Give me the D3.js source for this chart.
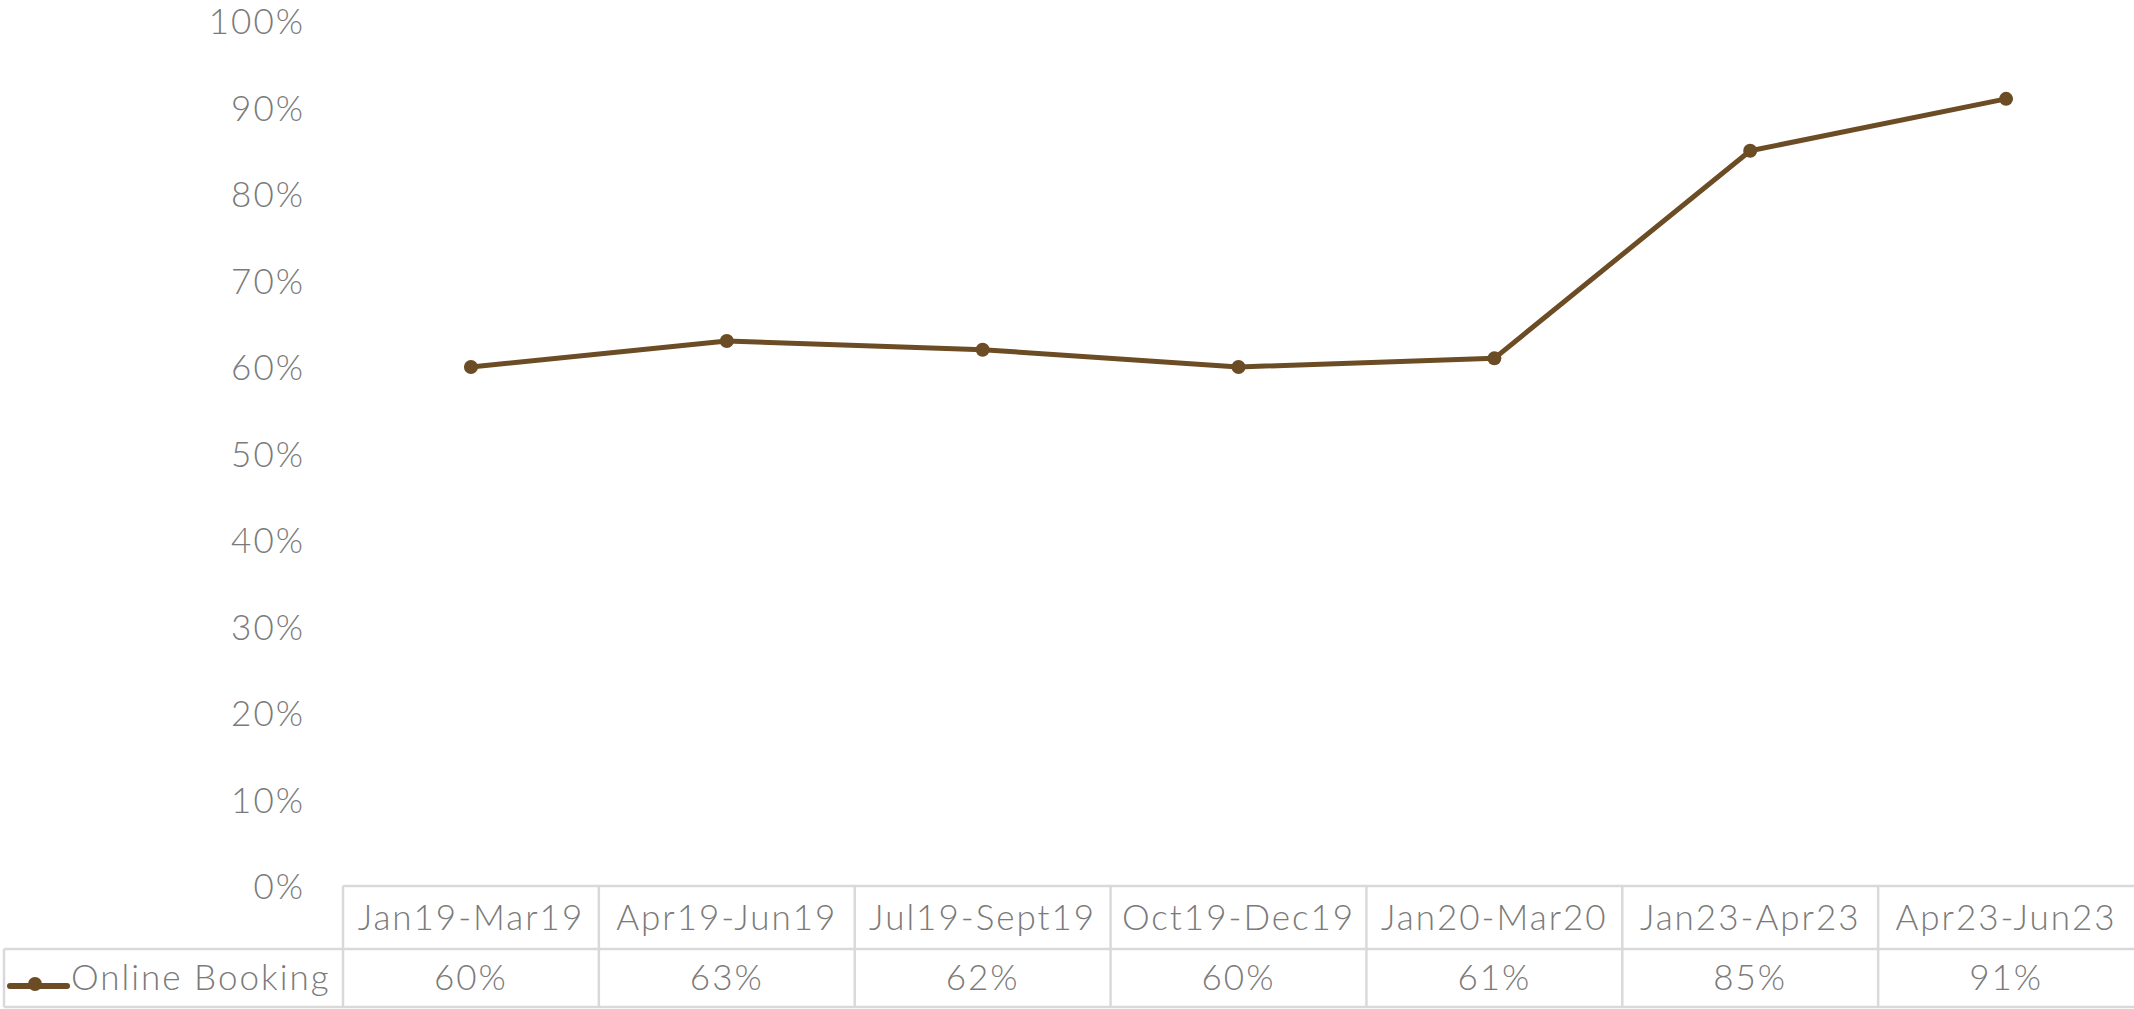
<!DOCTYPE html>
<html lang="en">
<head>
    <meta charset="UTF-8">
    <title>Online Booking</title>
    <script src="https://d3js.org/d3.v7.min.js"></script>
    <style>
        body { margin: 0; background: #fff; }
        svg text {
            font-family: "Lato", "Open Sans", sans-serif;
            font-weight: 300;
            fill: #7a7a7a;
            letter-spacing: 2px;
        }
        .tbl line { stroke: #d9d9d9; stroke-width: 2.5; }
    </style>
</head>
<body>
    <svg id="chart" width="2134" height="1009"></svg>

    <script>
        const categories = ["Jan19-Mar19", "Apr19-Jun19", "Jul19-Sept19", "Oct19-Dec19", "Jan20-Mar20", "Jan23-Apr23", "Apr23-Jun23"];
        const onlineBooking = [0.60, 0.63, 0.62, 0.60, 0.61, 0.85, 0.91];
        const yTicks = [0, 0.1, 0.2, 0.3, 0.4, 0.5, 0.6, 0.7, 0.8, 0.9, 1.0];
        const seriesName = "Online Booking";
        const lineColor = "#6c4c24";

        const svg = d3.select("#chart");
        const width = +svg.attr("width");

        const tableLeft = 343, tableTop = 886, rowMid = 949, tableBottom = 1007;
        const legendLeft = 4;
        const fontSize = 35;

        const x = d3.scaleBand().domain(categories).range([tableLeft, width]);
        const y = d3.scaleLinear().domain([0, 1]).range([tableTop, 21]);
        const cx = d => x(d) + x.bandwidth() / 2;

        // y axis (labels only, no gridlines)
        const yAxis = svg.append("g")
            .attr("transform", "translate(305,0)")
            .call(d3.axisLeft(y).tickValues(yTicks).tickFormat(d3.format(".0%")).tickSize(0).tickPadding(0));
        yAxis.select(".domain").remove();
        yAxis.selectAll("text")
            .attr("font-size", fontSize)
            .attr("font-family", null)
            .attr("dy", "0.36em");

        // data table
        const tbl = svg.append("g").attr("class", "tbl");
        tbl.append("line").attr("x1", tableLeft).attr("x2", width).attr("y1", tableTop).attr("y2", tableTop);
        tbl.append("line").attr("x1", legendLeft).attr("x2", width).attr("y1", rowMid).attr("y2", rowMid);
        tbl.append("line").attr("x1", legendLeft).attr("x2", width).attr("y1", tableBottom).attr("y2", tableBottom);
        tbl.append("line").attr("x1", legendLeft).attr("x2", legendLeft).attr("y1", rowMid).attr("y2", tableBottom);
        tbl.selectAll("line.col")
            .data(categories)
            .enter()
            .append("line")
            .attr("class", "col")
            .attr("x1", d => x(d)).attr("x2", d => x(d))
            .attr("y1", tableTop).attr("y2", tableBottom);

        svg.append("g").selectAll("text")
            .data(categories)
            .enter()
            .append("text")
            .attr("x", cx)
            .attr("y", (tableTop + rowMid) / 2)
            .attr("dy", "0.35em")
            .attr("text-anchor", "middle")
            .attr("font-size", fontSize)
            .text(d => d);

        svg.append("g").selectAll("text")
            .data(onlineBooking)
            .enter()
            .append("text")
            .attr("x", (d, i) => cx(categories[i]))
            .attr("y", (rowMid + tableBottom) / 2)
            .attr("dy", "0.35em")
            .attr("text-anchor", "middle")
            .attr("font-size", fontSize)
            .text(d => d3.format(".0%")(d));

        // legend key
        svg.append("line")
            .attr("x1", 10).attr("x2", 67).attr("y1", 986).attr("y2", 986)
            .attr("stroke", lineColor).attr("stroke-width", 6).attr("stroke-linecap", "round");
        svg.append("circle")
            .attr("cx", 35).attr("cy", 984).attr("r", 7)
            .attr("fill", lineColor);
        svg.append("text")
            .attr("x", 71)
            .attr("y", (rowMid + tableBottom) / 2)
            .attr("dy", "0.35em")
            .attr("font-size", fontSize)
            .text(seriesName);

        // line + markers
        const line = d3.line()
            .x((d, i) => cx(categories[i]))
            .y(d => y(d));

        svg.append("path")
            .datum(onlineBooking)
            .attr("d", line)
            .attr("fill", "none")
            .attr("stroke", lineColor)
            .attr("stroke-width", 5)
            .attr("stroke-linejoin", "round");

        svg.append("g").selectAll("circle")
            .data(onlineBooking)
            .enter()
            .append("circle")
            .attr("cx", (d, i) => cx(categories[i]))
            .attr("cy", d => y(d))
            .attr("r", 7)
            .attr("fill", lineColor);
    </script>
</body>
</html>
